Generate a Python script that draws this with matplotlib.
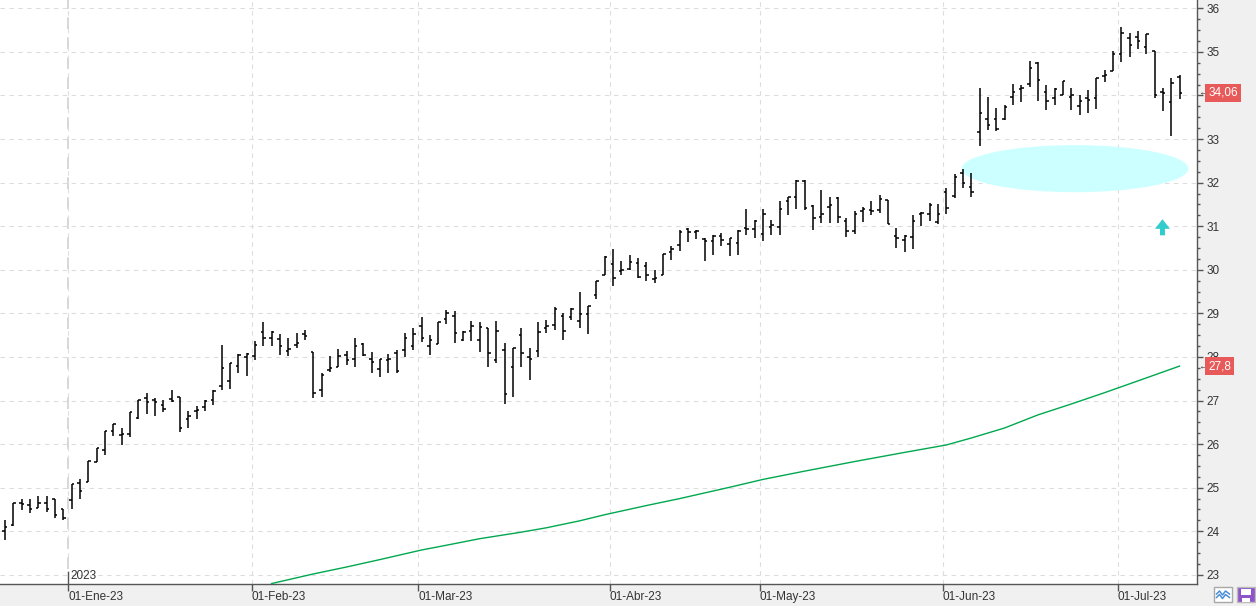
import numpy as np
import matplotlib.pyplot as plt
import matplotlib.transforms as mtransforms
from matplotlib.patches import Ellipse, Polygon, Rectangle
from matplotlib.lines import Line2D

plt.rcParams['font.family'] = ['Liberation Sans', 'DejaVu Sans']

# daily OHLC bars, one per trading session
opens = [24.0, 24.14, 24.64, 24.6, 24.53, 24.66, 24.73, 24.5, 24.72, 25.1,
         25.13, 25.58, 25.87, 26.31, 26.2, 26.24, 26.61, 27.05, 27.02, 26.9,
         27.03, 27.07, 26.57, 26.75, 26.84, 27.01, 27.34, 27.45, 27.79, 28.0,
         28.02, 28.57, 28.44, 28.42, 28.14, 28.28, 28.52, 28.11, 27.25, 27.7,
         27.78, 28.04, 27.96, 28.3, 27.96, 27.72, 27.92, 28.1, 28.16, 28.25,
         28.71, 28.25, 28.29, 28.88, 28.94, 28.4, 28.59, 28.39, 28.67, 27.93,
         28.17, 27.77, 28.5, 28.0, 28.14, 28.67, 28.73, 28.94, 28.91, 28.82,
         28.98, 29.42, 29.89, 30.14, 29.98, 30.02, 30.15, 30.08, 29.78, 29.89,
         30.41, 30.56, 30.94, 30.86, 30.71, 30.67, 30.78, 30.59, 30.61, 30.95,
         30.94, 30.82, 30.97, 30.97, 31.58, 31.68, 32.04, 31.47, 31.2, 31.45,
         31.64, 31.12, 30.9, 31.36, 31.37, 31.37, 31.6, 30.78, 30.69, 30.76,
         31.28, 31.28, 31.09, 31.79, 31.7, 32.22, 31.91, 33.17, 33.45, 33.45,
         33.45, 33.97, 34.14, 34.27, 34.74, 34.09, 33.93, 34.02, 33.97, 33.76,
         33.95, 33.93, 34.45, 34.57, 34.96, 35.31, 35.34, 35.12, 35.03, 34.09,
         33.85, 34.42]
highs = [24.25, 24.64, 24.75, 24.75, 24.82, 24.8, 24.73, 24.5, 25.09, 25.19,
         25.62, 25.92, 26.31, 26.46, 26.36, 26.74, 27.02, 27.17, 27.05, 27.02,
         27.24, 27.07, 26.77, 26.87, 27.01, 27.24, 28.27, 27.87, 28.06, 28.08,
         28.37, 28.8, 28.59, 28.53, 28.43, 28.56, 28.62, 28.11, 27.62, 28.02,
         28.18, 28.14, 28.43, 28.33, 28.11, 27.95, 28.06, 28.16, 28.54, 28.67,
         28.91, 28.5, 28.8, 29.07, 29.05, 28.59, 28.82, 28.8, 28.67, 28.82,
         28.33, 28.21, 28.66, 28.21, 28.8, 28.84, 29.14, 29.0, 29.13, 29.49,
         29.17, 29.74, 30.32, 30.48, 30.2, 30.35, 30.27, 30.18, 30.0, 30.36,
         30.54, 30.92, 30.96, 30.92, 30.74, 30.8, 30.84, 30.74, 30.92, 31.4,
         31.15, 31.4, 31.15, 31.57, 31.68, 32.05, 32.06, 31.49, 31.83, 31.68,
         31.66, 31.18, 31.34, 31.45, 31.58, 31.72, 31.6, 30.95, 30.8, 31.26,
         31.33, 31.53, 31.51, 31.87, 32.19, 32.31, 32.21, 34.17, 33.96, 33.71,
         33.78, 34.27, 34.25, 34.8, 34.77, 34.25, 34.17, 34.32, 34.17, 34.0,
         34.12, 34.4, 34.58, 35.01, 35.57, 35.44, 35.49, 35.4, 35.03, 34.17,
         34.39, 34.46]
lows = [23.79, 24.12, 24.48, 24.41, 24.53, 24.45, 24.3, 24.26, 24.52, 24.75,
        25.13, 25.58, 25.74, 26.19, 25.98, 26.16, 26.58, 26.69, 26.64, 26.74,
        26.96, 26.27, 26.36, 26.57, 26.77, 26.9, 27.24, 27.26, 27.63, 27.57,
        27.92, 28.24, 28.24, 28.04, 28.02, 28.2, 28.39, 27.06, 27.07, 27.66,
        27.77, 27.81, 27.76, 28.02, 27.63, 27.55, 27.63, 27.63, 28.0, 28.16,
        28.34, 28.05, 28.29, 28.76, 28.33, 28.37, 28.37, 28.12, 27.76, 27.85,
        26.92, 27.07, 27.76, 27.47, 28.0, 28.56, 28.61, 28.4, 28.84, 28.66,
        28.52, 29.32, 29.89, 29.62, 29.88, 30.0, 29.81, 29.74, 29.7, 29.89,
        30.23, 30.44, 30.64, 30.71, 30.21, 30.35, 30.54, 30.31, 30.35, 30.79,
        30.73, 30.65, 30.79, 30.8, 31.26, 31.4, 31.38, 30.92, 31.07, 31.07,
        31.07, 30.75, 30.82, 31.09, 31.26, 31.31, 31.06, 30.5, 30.41, 30.48,
        31.0, 31.11, 31.06, 31.28, 31.65, 31.87, 31.66, 32.83, 33.2, 33.18,
        33.43, 33.78, 33.84, 34.2, 33.87, 33.66, 33.78, 34.02, 33.66, 33.55,
        33.6, 33.7, 34.31, 34.55, 34.77, 34.88, 35.07, 34.96, 33.93, 33.64,
        33.07, 33.91]
closes = [24.1, 24.64, 24.62, 24.5, 24.66, 24.5, 24.38, 24.3, 25.09, 24.92,
          25.62, 25.9, 26.31, 26.45, 26.24, 26.74, 27.02, 26.96, 26.96, 26.8,
          27.0, 26.37, 26.65, 26.78, 26.99, 27.21, 27.74, 27.86, 28.05, 28.06,
          28.27, 28.44, 28.57, 28.24, 28.18, 28.31, 28.48, 27.18, 27.58, 27.74,
          28.02, 27.92, 28.25, 28.05, 27.89, 27.95, 27.95, 27.68, 28.43, 28.52,
          28.43, 28.38, 28.8, 29.0, 28.54, 28.58, 28.72, 28.69, 28.1, 28.59,
          27.15, 28.2, 28.08, 27.95, 28.57, 28.72, 29.11, 28.59, 29.11, 28.98,
          29.17, 29.74, 30.29, 29.8, 30.0, 30.17, 29.83, 29.89, 29.82, 30.36,
          30.48, 30.86, 30.86, 30.88, 30.67, 30.78, 30.69, 30.74, 30.9, 30.94,
          31.12, 31.28, 31.03, 31.4, 31.66, 32.04, 31.41, 31.18, 31.28, 31.49,
          31.22, 30.9, 31.28, 31.39, 31.35, 31.62, 31.06, 30.74, 30.78, 31.11,
          31.3, 31.49, 31.28, 31.41, 32.14, 32.0, 31.79, 33.6, 33.33, 33.22,
          33.74, 34.08, 34.17, 34.63, 34.35, 33.87, 34.14, 34.32, 34.0, 33.87,
          33.89, 34.39, 34.46, 34.96, 35.43, 35.16, 35.24, 35.4, 34.02, 34.06,
          34.29, 34.06]

# moving average read at a few sessions
ma_idx = [32, 37, 41, 45, 50, 53, 57, 62, 65, 69, 72, 77, 81, 87, 91, 96,
          102, 108, 113, 116, 120, 124, 128, 132, 136, 141]
ma_val = [22.8, 23.02, 23.18, 23.35, 23.57, 23.68, 23.83, 23.98, 24.08, 24.24,
          24.38, 24.59, 24.75, 25.01, 25.19, 25.38, 25.6, 25.81, 25.98, 26.14,
          26.37, 26.67, 26.92, 27.18, 27.45, 27.79]

# first session of each month and its label
month_idx = [8, 30, 50, 73, 91, 113, 134]
month_lbl = ['01-Ene-23', '01-Feb-23', '01-Mar-23', '01-Abr-23',
             '01-May-23', '01-Jun-23', '01-Jul-23']

last_price = '34,06'
ma_last = '27,8'

W, H = 1256, 606
fig = plt.figure(figsize=(W / 100, H / 100), dpi=100)
fig.patch.set_facecolor('#f0f0f0')
ax = fig.add_axes([0, 22 / H, 1196.7 / W, 584 / H])
ax.set_facecolor('white')

n = len(opens)
x = np.arange(n)
tw = 0.3
ax.vlines(x, lows, highs, color='black', lw=1.1, zorder=3)
ax.hlines(opens, x - tw, x, color='black', lw=1.1, zorder=3)
ax.hlines(closes, x, x + tw, color='black', lw=1.1, zorder=3)

ax.plot(ma_idx, ma_val, color='#00a84f', lw=1.0, zorder=3)

# annotations drawn on the chart
ax.add_patch(Ellipse((128.45, 32.32), 27.2, 1.08, fc='#ccffff', ec='none', zorder=2))
ax_c, bw, sw = 138.95, 0.9, 0.3
ax.add_patch(Polygon([(ax_c, 31.16), (ax_c + bw, 30.94), (ax_c + sw, 30.94),
                      (ax_c + sw, 30.79), (ax_c - sw, 30.79), (ax_c - sw, 30.94),
                      (ax_c - bw, 30.94)], closed=True, fc='#33cccc', ec='none', zorder=4))

ax.set_xlim(-0.6, 143.06)
ax.set_ylim(22.79, 36.19)

xt = [m - 0.4 for m in month_idx]
ax.set_xticks(xt)
ax.set_xticklabels(month_lbl, ha='left')
shift = mtransforms.ScaledTranslation(0.02, 0, fig.dpi_scale_trans)
for lab in ax.get_xticklabels():
    lab.set_transform(lab.get_transform() + shift)

yt = list(range(23, 37))
ax.set_yticks(yt)
# the 34 label sits under the last-price box
ax.set_yticklabels(['' if v == 34 else str(v) for v in yt])
ax.set_yticks(np.arange(23, 36.2, 0.25), minor=True)
ax.yaxis.tick_right()
ax.tick_params(axis='y', which='major', length=4, width=1, color='#555',
               labelsize=8.5, labelcolor='#333', pad=3)
ax.tick_params(axis='y', which='minor', length=2.5, width=1, color='#555')
ax.tick_params(axis='x', which='major', length=5, width=1, color='#555',
               labelsize=8.5, labelcolor='#333', pad=0)

ax.grid(True, which='major', color='#dddddd', linestyle=(0, (4, 4)), lw=0.8, zorder=0)
for s in ['left', 'top']:
    ax.spines[s].set_visible(False)
for s in ['right', 'bottom']:
    ax.spines[s].set_color('#555')
    ax.spines[s].set_linewidth(1)

# year separator
xa = mtransforms.blended_transform_factory(ax.transData, ax.transAxes)
ax.plot([xt[0], xt[0]], [0.025, 1], transform=xa, color='#cfcfcf', lw=1.2,
        linestyle=(0, (7, 5)), zorder=1)
ax.plot([xt[0], xt[0]], [0, 0.02], transform=xa, color='#555', lw=1, zorder=5)
ax.text(xt[0] + 0.25, 0.014, '2023', transform=xa, fontsize=8.5, color='#333',
        va='center', ha='left')

# price labels on the axis
ya = mtransforms.blended_transform_factory(ax.transAxes, ax.transData)
for val, txt in [(34.06, last_price), (ma_val[-1], ma_last)]:
    ax.text(1.0, val, '\u2190', transform=ya + mtransforms.ScaledTranslation(0.01, 0, fig.dpi_scale_trans),
            fontsize=7, color='#444', va='center', ha='left', clip_on=False)
    ax.text(1.0, val, txt, transform=ya + mtransforms.ScaledTranslation(0.115, 0, fig.dpi_scale_trans),
            fontsize=8.5, color='white', va='center', ha='left', clip_on=False, zorder=10,
            bbox=dict(boxstyle='square,pad=0.25', fc='#e85a5a', ec='none'))


# small toolbar icons bottom right
def px(xp, yp):
    return (xp / W, 1 - yp / H)


fig.add_artist(Rectangle(px(1214.3, 602.3), 17.4 / W, 15 / H, transform=fig.transFigure,
                         fc='white', ec='#a8a8a8', lw=1))
zz_x = [1216.5, 1219.5, 1222.5, 1225.5, 1229.5]
for off in (0, 3.5):
    fig.add_artist(Line2D([px(v, 0)[0] for v in zz_x],
                          [px(0, yy + off)[1] for yy in [594, 591, 595, 591, 594]],
                          transform=fig.transFigure, color='#4a90d9', lw=1.1))
fig.add_artist(Rectangle(px(1236.7, 602.3), 18.3 / W, 15 / H, transform=fig.transFigure,
                         fc='#8e55c8', ec='#bbbbbb', lw=1))
fig.add_artist(Rectangle(px(1240.5, 594.5), 10.5 / W, 5.5 / H, transform=fig.transFigure,
                         fc='white', ec='none'))
fig.add_artist(Rectangle(px(1241.5, 602.3), 8.5 / W, 4.5 / H, transform=fig.transFigure,
                         fc='white', ec='none'))

fig.savefig('out.png', dpi=100, facecolor=fig.get_facecolor())
